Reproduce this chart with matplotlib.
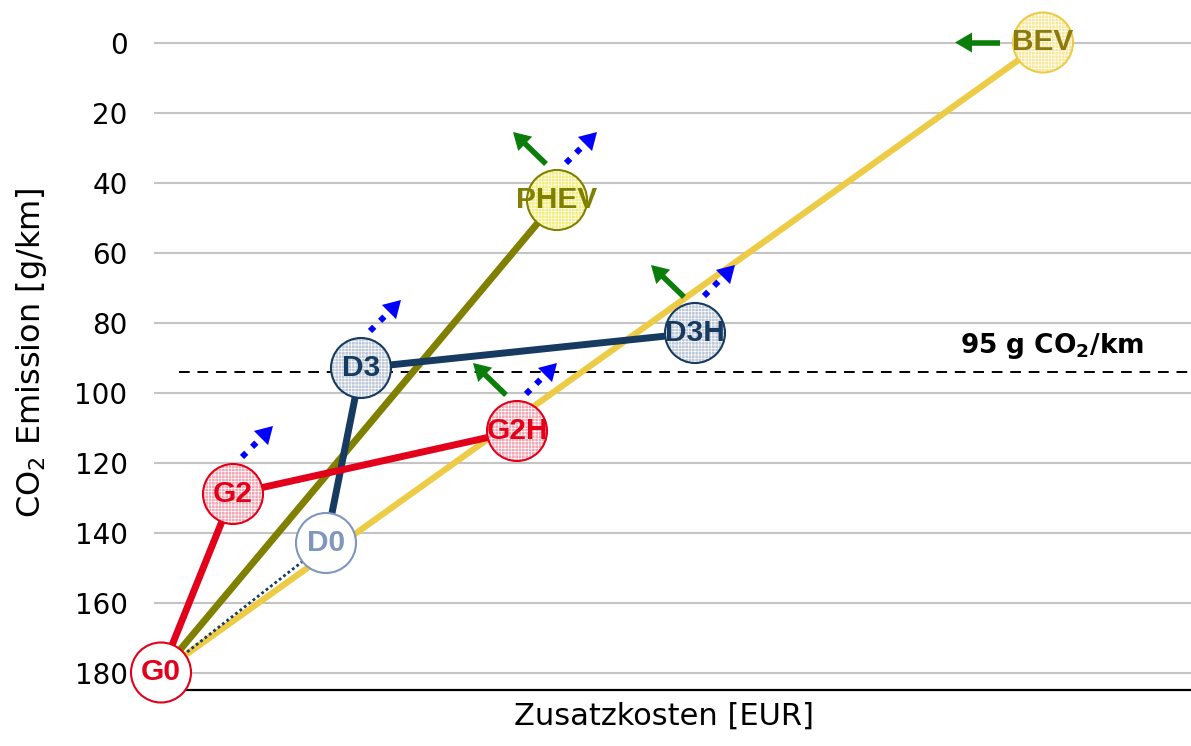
import matplotlib
matplotlib.use('Agg')
import matplotlib.pyplot as plt
import matplotlib.transforms as mtransforms
from matplotlib.patches import Circle, Polygon
from matplotlib.lines import Line2D
import numpy as np

# ---------------- data ----------------
names = ['G0', 'G2', 'G2H', 'D0', 'D3', 'D3H', 'PHEV', 'BEV']
cost = [0.0, 0.72, 3.56, 1.65, 2.00, 5.34, 3.96, 8.82]     # Zusatzkosten (relative)
co2 = [180, 129, 111, 143, 93, 83, 45, 0]                  # g/km

red_path = ['G0', 'G2', 'G2H']
navy_path = ['D0', 'D3', 'D3H']
navy_dotted_path = ['G0', 'D0']
olive_path = ['G0', 'PHEV']
yellow_path = ['G0', 'BEV']

target_value = 94
target_label = r'95 g CO$_\mathbf{2}$/km'

y_ticks = [0, 20, 40, 60, 80, 100, 120, 140, 160, 180]

green_up_left = ['PHEV', 'G2H', 'D3H']
green_left = ['BEV']
blue_up_right = ['G2', 'D3', 'G2H', 'D3H', 'PHEV']

# ---------------- styles ----------------
RED = '#e2001a'
NAVY = '#173a60'
OLIVE = '#808000'
YELLOW = '#eecb45'
GREEN = '#0a7d0a'
BLUE = '#0000ff'

node_style = {
    'G0':   dict(face='white',   edge=RED,       text=RED,       hatch=False),
    'G2':   dict(face='#f0a8b3', edge=RED,       text=RED,       hatch=True),
    'G2H':  dict(face='#f0a8b3', edge=RED,       text=RED,       hatch=True),
    'D0':   dict(face='white',   edge='#7f96bd', text='#7f96bd', hatch=False),
    'D3':   dict(face='#bdc8d8', edge=NAVY,      text=NAVY,      hatch=True),
    'D3H':  dict(face='#bdc8d8', edge=NAVY,      text=NAVY,      hatch=True),
    'PHEV': dict(face='#f2ed76', edge=OLIVE,     text=OLIVE,     hatch=True),
    'BEV':  dict(face='#f9e799', edge=YELLOW,    text='#8c7a10', hatch=True),
}

plt.rcParams['hatch.linewidth'] = 0.5
plt.rcParams['mathtext.fontset'] = 'dejavusans'

W, H = 1191, 746
fig = plt.figure(figsize=(W / 100, H / 100), dpi=100)
ax_left, ax_right, ax_top, ax_bottom = 154, 1191, 7.5, 690
ax = fig.add_axes([ax_left / W, 1 - ax_bottom / H,
                   (ax_right - ax_left) / W, (ax_bottom - ax_top) / H])

ax.set_xlim(-0.07, 10.30)
ax.set_ylim(185, -10)

for s in ['top', 'right', 'left']:
    ax.spines[s].set_visible(False)
ax.spines['bottom'].set_linewidth(1.6)
ax.spines['bottom'].set_color('black')
ax.set_xticks([])
ax.set_yticks(y_ticks)
ax.tick_params(axis='y', length=0, pad=19, labelsize=20)
for v in y_ticks:
    ax.axhline(v, color='#c4c4c4', lw=1.5, zorder=0.5)

fig.text(32 / W, 1 - 353 / H, r'CO$_2$ Emission [g/km]', fontsize=23,
         rotation=90, ha='center', va='center')
fig.text(664 / W, 1 - 725 / H, 'Zusatzkosten [EUR]', fontsize=22,
         ha='center', va='baseline')

pos = {n: (c, e) for n, c, e in zip(names, cost, co2)}


def path_xy(p):
    return [pos[n][0] for n in p], [pos[n][1] for n in p]


ax.plot(*path_xy(yellow_path), color=YELLOW, lw=4.5, zorder=2, solid_capstyle='butt')
ax.plot(*path_xy(olive_path), color=OLIVE, lw=5, zorder=3, solid_capstyle='butt')
ax.plot(*path_xy(navy_path), color=NAVY, lw=5, zorder=4, solid_capstyle='butt')
ax.plot(*path_xy(red_path), color=RED, lw=5, zorder=5, solid_capstyle='butt')
ax.plot(*path_xy(navy_dotted_path), color=NAVY, lw=2, ls=(0, (1, 1)), zorder=5.5)

# target line
ax.plot([0.18, 10.30], [target_value, target_value], color='black', lw=1.4,
        ls=(0, (5.5, 4)), zorder=1)
ax.text(7.99, 88.6, target_label, fontsize=19, fontweight='bold',
        ha='left', va='baseline', zorder=6)


def px_trans(x, y):
    return mtransforms.Affine2D() + mtransforms.ScaledTranslation(x, y, ax.transData)


R = 30
for n in names:
    x, y = pos[n]
    st = node_style[n]
    tr = px_trans(x, y)
    ax.add_patch(Circle((0, 0), R, transform=tr, facecolor=st['face'],
                        edgecolor='none', lw=0, zorder=10, clip_on=False))
    if st['hatch']:
        ax.add_patch(Circle((0, 0), R, transform=tr, facecolor='none',
                            edgecolor='white', lw=0, hatch='+++++',
                            zorder=10.5, clip_on=False))
    ax.add_patch(Circle((0, 0), R, transform=tr, facecolor='none',
                        edgecolor=st['edge'], lw=1.5, zorder=11, clip_on=False))
    ax.text(x, y, n, fontsize=21.5, fontweight='bold', color=st['text'],
            family='Liberation Sans', ha='center', va='center', zorder=12,
            clip_on=False)


def arrow(x, y, tail, tip, color, dotted):
    tr = px_trans(x, y)
    T = np.array(tail, float)
    P = np.array(tip, float)
    u = (P - T) / np.linalg.norm(P - T)
    nrm = np.array([-u[1], u[0]])
    L, Wd = 17.0, 10.0
    B = P - L * u
    if dotted:
        ln = Line2D([T[0], B[0]], [T[1], B[1]], color=color, lw=4.3,
                    ls=(0, (1, 1.4)), solid_capstyle='butt',
                    dash_capstyle='butt', transform=tr, zorder=8)
    else:
        Bs = B + 2 * u
        ln = Line2D([T[0], Bs[0]], [T[1], Bs[1]], color=color, lw=4.0,
                    solid_capstyle='butt', transform=tr, zorder=8)
    ln.set_clip_on(False)
    ax.add_line(ln)
    head = Polygon([P, B + Wd * nrm, B - Wd * nrm], closed=True,
                   facecolor=color, edgecolor='none', transform=tr, zorder=8,
                   clip_on=False)
    ax.add_patch(head)


for n in green_up_left:
    arrow(*pos[n], (-11, 36), (-44, 68), GREEN, False)
for n in green_left:
    arrow(*pos[n], (-43, 0), (-88, 0), GREEN, False)
for n in blue_up_right:
    arrow(*pos[n], (9, 37), (40, 68), BLUE, True)

fig.savefig('out.png', dpi=100)
